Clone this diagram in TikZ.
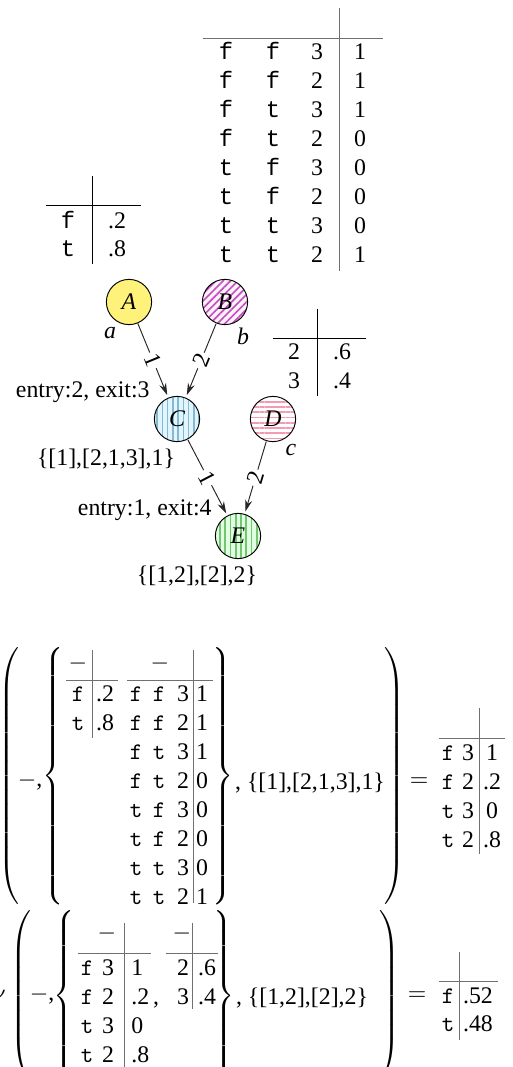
\documentclass[tikz,border=0pt]{standalone}
\usepackage{fontspec}
\setmainfont{Liberation Serif}
\newfontfamily\courfont{Liberation Mono}
\usepackage{xcolor}
\usetikzlibrary{arrows.meta,patterns.meta}

\definecolor{nodeyellow}{HTML}{FFF27A}
\definecolor{bstripe}{HTML}{C24FC2}
\definecolor{cstripe}{HTML}{86B8CF}
\definecolor{dstripe}{HTML}{F49AB2}
\definecolor{estripe}{HTML}{74C474}
\definecolor{rulegray}{HTML}{707070}

\newcommand{\lfence}[2]{$\left#1\vrule height\dimexpr#2+2.5pt\relax depth\dimexpr#2-2.5pt\relax width0pt\right.$}
\newcommand{\rfence}[2]{$\left.\vrule height\dimexpr#2+2.5pt\relax depth\dimexpr#2-2.5pt\relax width0pt\right#1$}

\tikzset{
  var/.style={circle,draw,minimum size=19pt,inner sep=0pt,font=\itshape},
  stripes/.style={pattern={Lines[angle=#1,distance=2.2pt,line width=0.7pt]}},
  edge/.style={draw=black!85,-{Stealth[length=5pt,width=3pt]},shorten >=1pt},
  elab/.style={sloped,fill=white,inner sep=1pt},
  cell/.style={anchor=base,inner sep=0pt},
  lcell/.style={anchor=base west,inner sep=0pt},
  fence/.style={inner sep=0pt},
  grid/.style={draw=rulegray},
}

\begin{document}
\begin{tikzpicture}[x=0.42pt,y=-0.42pt]
\useasboundingbox (0,0) rectangle (512,1067);

\draw[grid] (339,8) -- (339,271);
\draw[grid] (203,38) -- (383,38);
\foreach \pa/\pb/\pn/\pv [count=\i] in {f/f/3/1,f/f/2/1,f/t/3/1,f/t/2/0,t/f/3/0,t/f/2/0,t/t/3/0,t/t/2/1} {
  \node[cell] (cpt-\i-a) at (226,{60+29*(\i-1)}) {\courfont\pa};
  \node[cell] (cpt-\i-b) at (273,{60+29*(\i-1)}) {\courfont\pb};
  \node[cell] (cpt-\i-n) at (317,{60+29*(\i-1)}) {\pn};
  \node[cell] (cpt-\i-v) at (360,{60+29*(\i-1)}) {\pv};
}

\draw (92,176) -- (92,264);
\draw (46,205) -- (141,205);
\node[cell] (pa-1) at (68,229) {\courfont f};
\node[cell] (pa-2) at (68,257) {\courfont t};
\node[cell] (pa-3) at (117,229) {.2};
\node[cell] (pa-4) at (117,257) {.8};

\draw (317,309) -- (317,396);
\draw (273,338) -- (366,338);
\node[cell] (pc-1) at (294,360) {2};
\node[cell] (pc-2) at (294,389) {3};
\node[cell] (pc-3) at (342,360) {.6};
\node[cell] (pc-4) at (342,389) {.4};

\node[var,fill=nodeyellow] (A) at (129,302) {A};
\node[var,preaction={fill=magenta!5},stripes=45,pattern color=bstripe] (B) at (225,302) {B};
\node[var,preaction={fill=cyan!12},stripes=90,pattern color=cstripe] (C) at (177,419) {C};
\node[var,preaction={fill=white},stripes=0,pattern color=dstripe] (D) at (273,419) {D};
\node[var,preaction={fill=green!12},stripes=90,pattern color=estripe] (E) at (238,536) {E};

\node (la) at (110,333) {\textit{a}};
\node (lb) at (243,336) {\textit{b}};
\node (lc) at (291,450) {\textit{c}};

\draw[edge] (A) -- node[elab] (eac) {1} (C);
\draw[edge] (B) -- node[elab] (ebc) {2} (C);
\draw[edge] (C) -- node[elab] (ece) {1} (E);
\draw[edge] (D) -- node[elab] (ede) {2} (E);

\node[anchor=base east,inner sep=0pt] (cin) at (150,398) {entry:2, exit:3};
\node[cell] (cset) at (106,465) {\{[1],[2,1,3],1\}};
\node[anchor=base east,inner sep=0pt] (ein) at (212,515) {entry:1, exit:4};
\node[cell] (eset) at (197,582) {\{[1,2],[2],2\}};

\node[fence] (lp1) at (10,776) {\lfence({54.5pt}};
\node[cell] (m1) at (30,786) {$-$,};
\node[fence] (lb1) at (55,776) {\lfence\{{54.5pt}};
\draw[grid] (92,650) -- (92,738);
\draw[grid] (66,680) -- (118,680);
\node[cell] (h1) at (78,669) {$-$};
\node[cell] (s1-1) at (78,701) {\ttfamily f};
\node[cell] (s1-2) at (78,730) {\ttfamily t};
\node[cell] (s1-3) at (105,701) {.2};
\node[cell] (s1-4) at (105,730) {.8};
\draw[grid] (193,650) -- (193,903);
\draw[grid] (127,680) -- (213,680);
\node[cell] (h2) at (160,669) {$-$};
\foreach \pa/\pb/\pn/\pv [count=\i] in {f/f/3/1,f/f/2/1,f/t/3/1,f/t/2/0,t/f/3/0,t/f/2/0,t/t/3/0,t/t/2/1} {
  \node[cell] (s2-\i-a) at (136,{701+29*(\i-1)}) {\ttfamily\pa};
  \node[cell] (s2-\i-b) at (159,{701+29*(\i-1)}) {\ttfamily\pb};
  \node[cell] (s2-\i-n) at (183,{701+29*(\i-1)}) {\pn};
  \node[cell] (s2-\i-v) at (202,{701+29*(\i-1)}) {\pv};
}
\node[fence] (rb1) at (222,776) {\rfence\}{54.5pt}};
\node[cell] (t1) at (310,789) {, \{[1],[2,1,3],1\}};
\node[fence] (rp1) at (393,776) {\rfence){54.5pt}};
\node[cell] (q1) at (419,786) {$=$};
\draw[grid] (479,708) -- (479,854);
\draw[grid] (439,738) -- (505,738);
\foreach \pa/\pn/\pv [count=\i] in {f/3/1,f/2/.2,t/3/0,t/2/.8} {
  \node[cell] (r1-\i-a) at (448,{760+29*(\i-1)}) {\ttfamily\pa};
  \node[cell] (r1-\i-n) at (468,{760+29*(\i-1)}) {\pn};
  \node[cell] (r1-\i-v) at (492,{760+29*(\i-1)}) {\pv};
}

\node[cell] (fn) at (-1,1000) {$\nu$};
\node[fence] (lp2) at (22,996) {\lfence({38pt}};
\node[cell] (m2) at (42,1000) {$-$,};
\node[fence] (lb2) at (66,996) {\lfence\{{38pt}};
\draw[grid] (124,923) -- (124,1070);
\draw[grid] (78,953) -- (151,953);
\node[cell] (h3) at (107,939) {$-$};
\foreach \pa/\pn/\pv [count=\i] in {f/3/1,f/2/.2,t/3/0,t/2/.8} {
  \node[cell] (s3-\i-a) at (87,{975+29*(\i-1)}) {\ttfamily\pa};
  \node[cell] (s3-\i-n) at (108,{975+29*(\i-1)}) {\pn};
  \node[lcell] (s3-\i-v) at (131,{975+29*(\i-1)}) {\pv};
}
\node[cell] (k3) at (156,1004) {,};
\draw[grid] (192,923) -- (192,1009);
\draw[grid] (166,953) -- (218,953);
\node[cell] (h4) at (182,939) {$-$};
\node[cell] (s4-1) at (183,975) {2};
\node[cell] (s4-2) at (183,1004) {3};
\node[cell] (s4-3) at (207,975) {.6};
\node[cell] (s4-4) at (207,1004) {.4};
\node[fence] (rb2) at (223,996) {\rfence\}{38pt}};
\node[cell] (t2) at (302,1004) {, \{[1,2],[2],2\}};
\node[fence] (rp2) at (388,996) {\rfence){38pt}};
\node[cell] (q2) at (417,1000) {$=$};
\draw[grid] (459,952) -- (459,1040);
\draw[grid] (439,981) -- (498,981);
\node[cell] (r2-1) at (448,1003) {\ttfamily f};
\node[cell] (r2-2) at (448,1031) {\ttfamily t};
\node[cell] (r2-3) at (478,1003) {.52};
\node[cell] (r2-4) at (478,1031) {.48};
\end{tikzpicture}
\end{document}
